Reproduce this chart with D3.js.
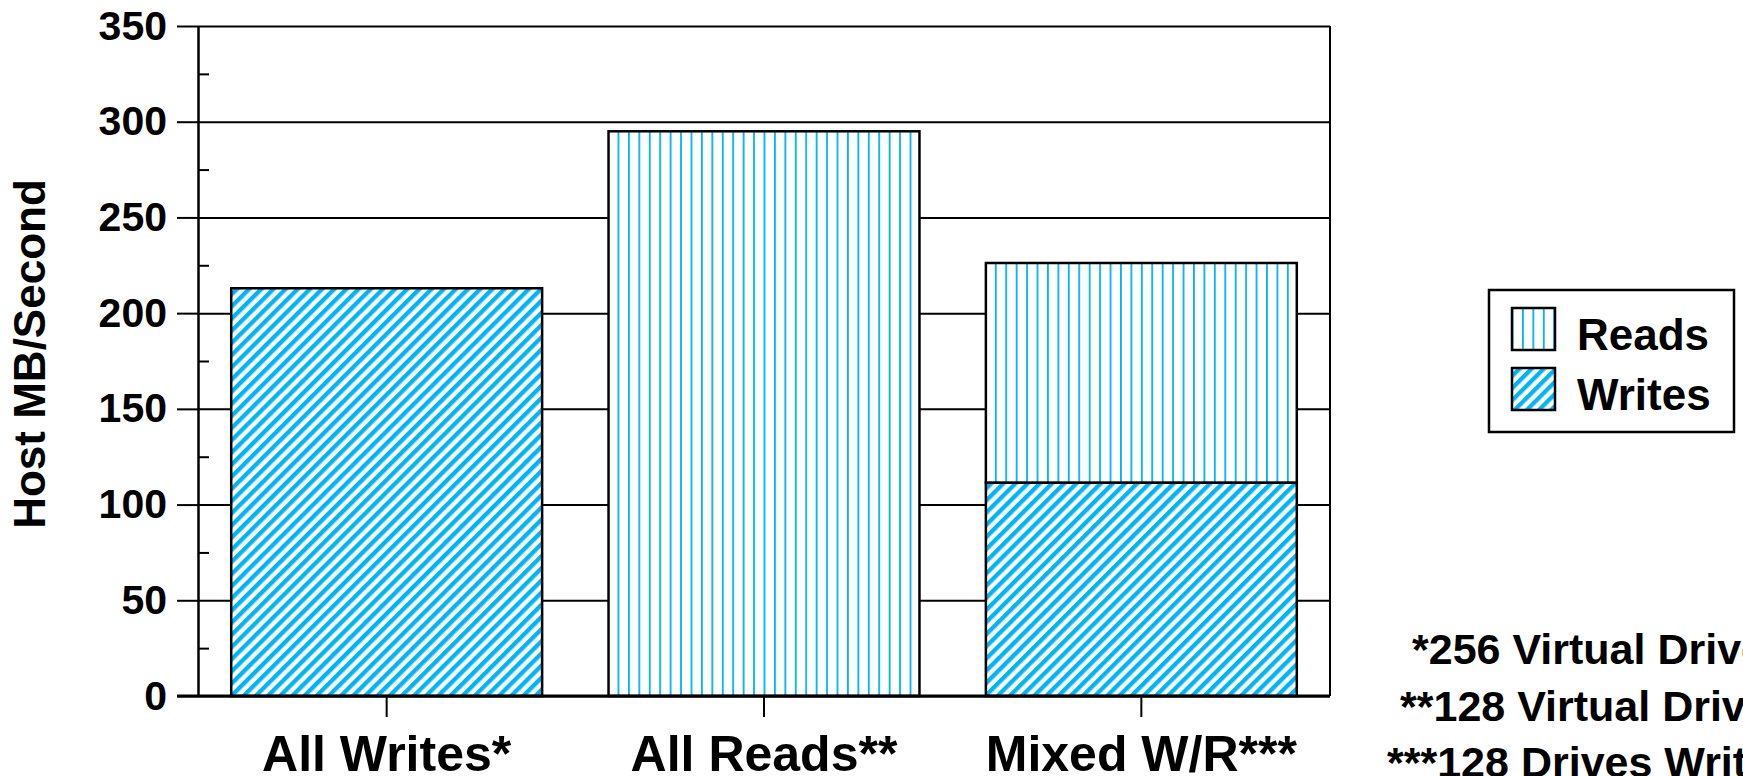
<!DOCTYPE html>
<html><head><meta charset="utf-8">
<script src="https://cdn.jsdelivr.net/npm/d3@7"></script>
<style>
body{margin:0;background:#fff}
svg{display:block}
text{font-family:"Liberation Sans",Arial,sans-serif;font-weight:bold;fill:#000}
</style>
</head><body><svg id="c" width="1743" height="776"></svg>
<script>
const categories = ["All Writes*", "All Reads**", "Mixed W/R***"];
const writes = [213, 0, 111.5];
const reads = [0, 295, 114.7];
const yTicks = [0, 50, 100, 150, 200, 250, 300, 350];
const yMinorTicks = [25, 75, 125, 175, 225, 275, 325];
const seriesNames = ["Reads", "Writes"];
const footnotes = ["*256 Virtual Drives", "**128 Virtual Drives", "***128 Drives Writing"];
const yTitle = "Host MB/Second";

const BLUE = "#00b4f5";
const svg = d3.select("#c");
svg.append("rect").attr("width",1743).attr("height",776).attr("fill","#fff");
const L = 198, R = 1330, T = 26, B = 696;
const y = d3.scaleLinear().domain([0, 350]).range([B, T]);
const x = d3.scaleBand().domain(categories).range([L, R]).paddingInner(0.176).paddingOuter(0.088);

const defs = svg.append("defs");
const dp = defs.append("pattern").attr("id","diag").attr("patternUnits","userSpaceOnUse")
  .attr("width",8.6).attr("height",8.6).attr("patternTransform","rotate(45)");
dp.append("rect").attr("width",8.6).attr("height",8.6).attr("fill","#fff");
dp.append("rect").attr("width",4.3).attr("height",8.6).attr("fill",BLUE);
let pid = 0;
function vpat(x0){
  const id = "vp"+(pid++);
  const p = defs.append("pattern").attr("id",id).attr("patternUnits","userSpaceOnUse")
    .attr("x",x0).attr("y",0).attr("width",10.43).attr("height",10);
  p.append("rect").attr("width",10.43).attr("height",10).attr("fill","#fff");
  p.append("rect").attr("x",0).attr("width",1.8).attr("height",10).attr("fill",BLUE);
  return "url(#"+id+")";
}

// gridlines
const grid = svg.append("g").attr("transform",`translate(${L},0)`)
  .call(d3.axisRight(y).tickValues(yTicks).tickSize(R-L).tickFormat(""));
grid.select(".domain").remove();
grid.selectAll("line").attr("stroke","#000").attr("stroke-width",2);

// bars
const bars = svg.append("g");
categories.forEach((c,i)=>{
  const bx = x(c), bw = x.bandwidth();
  if (writes[i] > 0) {
    bars.append("rect").attr("x",bx).attr("y",y(writes[i])).attr("width",bw)
      .attr("height",y(0)-y(writes[i])).attr("fill","url(#diag)")
      .attr("stroke","#000").attr("stroke-width",2.5);
  }
  if (reads[i] > 0) {
    const top = writes[i] + reads[i];
    bars.append("rect").attr("x",bx).attr("y",y(top)).attr("width",bw)
      .attr("height",y(writes[i])-y(top)).attr("fill",vpat(bx+9))
      .attr("stroke","#000").attr("stroke-width",2.5);
  }
});

// y axis
const ya = svg.append("g").attr("transform",`translate(${L},0)`)
  .call(d3.axisLeft(y).tickValues(yTicks).tickSizeInner(21).tickSizeOuter(0).tickPadding(10));
ya.select(".domain").attr("stroke","#000").attr("stroke-width",2.5);
ya.selectAll("line").attr("stroke","#000").attr("stroke-width",2);
ya.selectAll("text").attr("font-size",41).attr("font-family",null).attr("fill","#000");

const ym = svg.append("g").attr("transform",`translate(${L},0)`)
  .call(d3.axisRight(y).tickValues(yMinorTicks).tickSize(11).tickFormat(""));
ym.select(".domain").remove();
ym.selectAll("line").attr("stroke","#000").attr("stroke-width",2);

// right frame
svg.append("line").attr("x1",R).attr("x2",R).attr("y1",y(350)).attr("y2",y(0))
  .attr("stroke","#000").attr("stroke-width",2);

// x axis
const xa = svg.append("g").attr("transform",`translate(0,${B})`)
  .call(d3.axisBottom(x).tickSizeInner(21).tickSizeOuter(0).tickPadding(18));
xa.select(".domain").attr("d",`M${L-21},0H${R}`).attr("stroke","#000").attr("stroke-width",3);
xa.selectAll("line").attr("stroke","#000").attr("stroke-width",2);
xa.selectAll("text").attr("font-size",50).attr("font-family",null).attr("fill","#000");

// y title
svg.append("text").attr("transform",`translate(45,354) rotate(-90)`)
  .attr("text-anchor","middle").attr("font-size",44).text(yTitle);

// legend
const lg = svg.append("g");
lg.append("rect").attr("x",1489).attr("y",290).attr("width",245).attr("height",142)
  .attr("fill","#fff").attr("stroke","#000").attr("stroke-width",2.5);
seriesNames.forEach((s,i)=>{
  const sy = 308 + i*60;
  lg.append("rect").attr("x",1512).attr("y",sy).attr("width",43).attr("height",42)
    .attr("fill", s==="Reads" ? vpat(1512+10) : "url(#diag)")
    .attr("stroke","#000").attr("stroke-width",2.5);
  lg.append("text").attr("x",1577).attr("y",sy+42).attr("font-size",44).text(s);
});

// footnotes
const fx = [1412, 1400, 1387];
footnotes.forEach((f,i)=>{
  svg.append("text").attr("x",fx[i]).attr("y",664 + i*56.5).attr("font-size",43).text(f);
});
</script>
</body></html>
